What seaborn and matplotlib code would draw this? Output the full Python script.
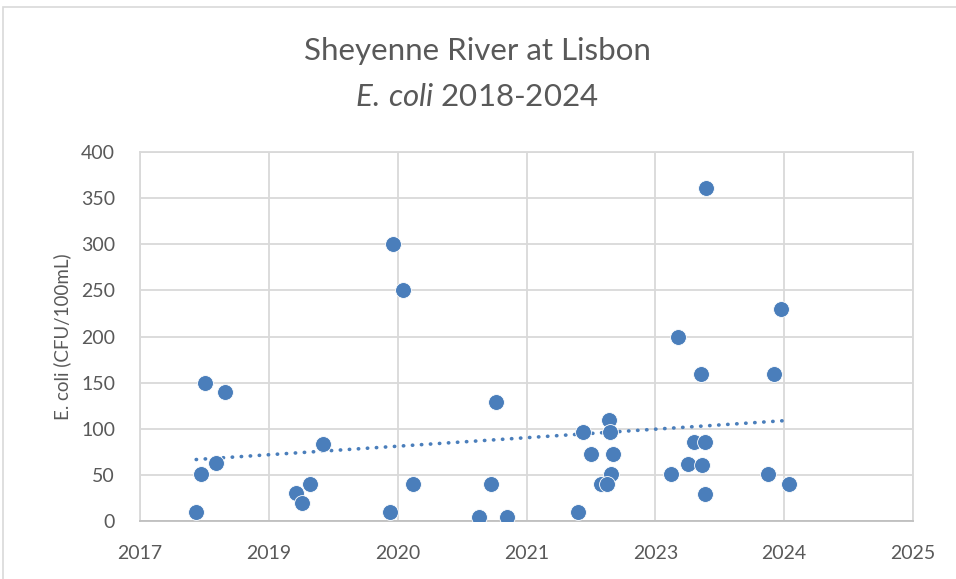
import matplotlib
matplotlib.use("Agg")
import matplotlib.pyplot as plt
import numpy as np
import pandas as pd
import seaborn as sns
from matplotlib.patches import Rectangle

# Données (date en année décimale, E. coli en CFU/100mL)
sample_year = [2018.48, 2018.57, 2018.78, 2018.53, 2018.68,
               2019.51, 2019.57, 2019.65, 2019.79,
               2020.51, 2020.61, 2020.48, 2020.72,
               2021.52, 2021.40, 2021.69, 2021.58,
               2022.42, 2022.47, 2022.56, 2022.74, 2022.75, 2022.78, 2022.76, 2022.66, 2022.72,
               2023.38, 2023.45, 2023.74, 2023.69, 2023.62, 2023.73, 2023.56, 2023.70, 2023.73,
               2024.52, 2024.45, 2024.38, 2024.60]
ecoli = [10, 150, 140, 51, 63,
         30, 19, 40, 83,
         300, 250, 10, 40,
         40, 4, 4, 129,
         10, 96, 73, 110, 96, 73, 51, 40, 40,
         51, 200, 361, 159, 86, 86, 62, 61, 29,
         230, 159, 51, 40]

# axe des dates (style Excel : pas de ~486 jours)
x_start = 2017.9
x_step = 1.33
x_tick_labels = ['2017', '2019', '2020', '2021', '2023', '2024', '2025']
y_ticks = [0, 50, 100, 150, 200, 250, 300, 350, 400]

df = pd.DataFrame({'Date': sample_year, 'Ecoli': ecoli})

sns.set_style("white")
plt.rcParams['font.family'] = ['Lato', 'DejaVu Sans']
plt.rcParams['mathtext.fontset'] = 'custom'
plt.rcParams['mathtext.rm'] = 'Lato'
plt.rcParams['mathtext.it'] = 'Lato:italic'

blue = '#4a7ebb'
grey_txt = '#595959'
grid_c = '#d9d9d9'

fig = plt.figure(figsize=(9.56, 5.79), dpi=100)
ax = fig.add_axes([140 / 956, 58 / 579, 773 / 956, 369 / 579])

# cadre du graphique
fig.patches.append(Rectangle((3 / 956, -0.1), 1.1, (572 + 58) / 579, transform=fig.transFigure,
                             fill=False, edgecolor='#d9d9d9', linewidth=1.2, zorder=0))

sns.regplot(data=df, x='Date', y='Ecoli', ax=ax, scatter=False, ci=None, truncate=True,
            line_kws={'color': blue, 'linestyle': (0, (0.1, 2.4)), 'linewidth': 2.6,
                      'dash_capstyle': 'round', 'zorder': 2})
sns.scatterplot(data=df, x='Date', y='Ecoli', ax=ax, s=130, color=blue,
                edgecolor='white', linewidth=0.6, zorder=3)

ticks = [x_start + i * x_step for i in range(len(x_tick_labels))]
ax.set_xlim(ticks[0], ticks[-1])
ax.set_xticks(ticks)
ax.set_xticklabels(x_tick_labels)
ax.set_ylim(0, 400)
ax.set_yticks(y_ticks)

ax.grid(True, color=grid_c, linewidth=1.3)
ax.set_axisbelow(True)
for side in ['top', 'right', 'left']:
    ax.spines[side].set_color(grid_c)
    ax.spines[side].set_linewidth(1.3)
ax.spines['bottom'].set_color('#bfbfbf')
ax.spines['bottom'].set_linewidth(1.3)

ax.tick_params(axis='both', length=0, labelsize=14, labelcolor=grey_txt)
ax.tick_params(axis='x', pad=17)
ax.tick_params(axis='y', pad=18)
ax.set_xlabel('')
ax.set_ylabel('E. coli (CFU/100mL)', fontsize=13.5, color=grey_txt, labelpad=7)

fig.text(0.499, 1 - 51 / 579, 'Sheyenne River at Lisbon', ha='center', va='center',
         fontsize=22.5, color=grey_txt)
fig.text(0.499, 1 - 97 / 579, r'$\it{E.\!\ coli}$ 2018-2024', ha='center', va='center',
         fontsize=22.5, color=grey_txt)

fig.savefig('out.png', dpi=100)
